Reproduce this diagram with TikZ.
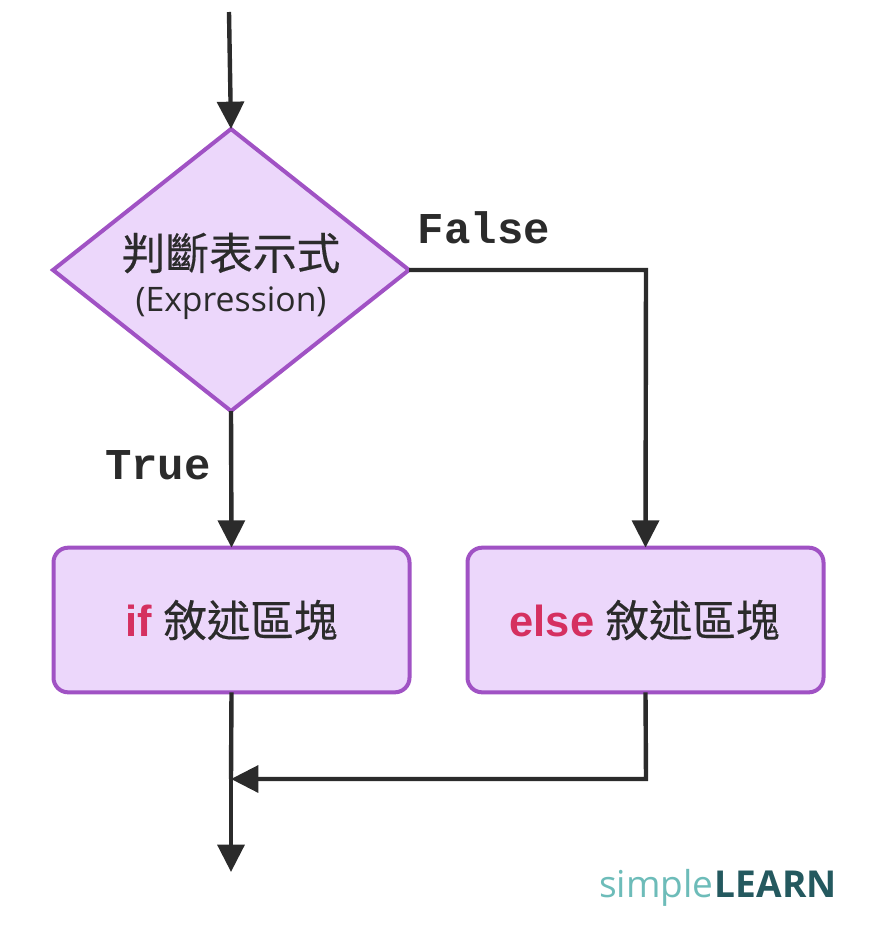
\documentclass[tikz,border=0pt]{standalone}
\usepackage{fontspec}
\setmainfont{Open Sans}
\newfontfamily\cjkfont{Noto Sans CJK TC}[FakeBold=0.35]
\newfontfamily\monofont{Liberation Mono}[BoldFont={Liberation Mono Bold}]
\newfontfamily\helvfont{Liberation Sans}[BoldFont={Liberation Sans Bold}]
\usetikzlibrary{shapes.geometric,arrows.meta}
\definecolor{boxfill}{HTML}{ECD7FB}
\definecolor{boxline}{HTML}{A052C4}
\definecolor{ink}{HTML}{2B2B2B}
\definecolor{kw}{HTML}{D53060}
\definecolor{logolight}{HTML}{6DBCB9}
\definecolor{logodark}{HTML}{24595F}
\tikzset{
  flow/.style={draw=ink,line width=3.3pt,-{Triangle[length=20.5pt,width=20pt]}},
  plain/.style={draw=ink,line width=3.3pt},
  decision/.style={diamond,draw=boxline,fill=boxfill,line width=3pt,inner sep=0pt,outer sep=0pt,aspect=1.262,minimum width=267pt,minimum height=211.5pt},
  block/.style={rectangle,rounded corners=11pt,draw=boxline,fill=boxfill,line width=3pt,inner sep=0pt,outer sep=0pt,minimum width=267pt,minimum height=108.5pt},
  edgelabel/.style={text=ink,font=\monofont\bfseries\fontsize{33}{36}\selectfont,inner sep=0pt},
  blocktext/.style={text=ink,font=\fontsize{32.6}{38}\selectfont}
}
\newcommand{\kwd}[1]{{\helvfont\bfseries\color{kw}#1}}
\begin{document}
\begin{tikzpicture}[x=0.75pt,y=-0.75pt]
\useasboundingbox (0,0) rectangle (886,932);
\node[decision] (cond) at (231,270) {};
\node[text=ink,inner sep=0pt,font=\cjkfont\fontsize{32.8}{38}\selectfont] (condtext) at (231,253) {判斷表示式};
\node[text=ink,inner sep=0pt,font=\fontsize{25.3}{30}\selectfont] (condsub) at (231,303) {(Expression)};
\node[block] (ifb) at (231.5,620) {};
\node[block] (elseb) at (645.5,620) {};
\node[blocktext,inner sep=0pt] (iftext) at (231.5,620) {\kwd{if} {\cjkfont 敘述區塊}};
\node[blocktext,inner sep=0pt] (elsetext) at (644.5,620) {\kwd{else} {\cjkfont 敘述區塊}};
\node[edgelabel] (lfalse) at (484,228) {False};
\node[edgelabel] (ltrue) at (158,465) {True};
\coordinate (start) at (229,12);
\coordinate (merge) at (231,779);
\coordinate (finish) at (231,872);
\coordinate (turnF) at (646,270);
\coordinate (turnE) at (646,779);
\draw[flow] (start) -- (cond.north);
\draw[flow] (cond.south) -- (ifb.north);
\draw[flow] (cond.east) -- (turnF) -- (elseb.north);
\draw[plain] (ifb.south) -- (merge);
\draw[flow] (merge) -- (finish);
\draw[flow] (elseb.south) -- (turnE) -- (merge);
\node[inner sep=0pt,anchor=base east] (logo) at (837,897) {\fontsize{27.8}{34}\selectfont\color{logolight}simple\hspace{1pt}{\bfseries\color{logodark}LEARN}};
\end{tikzpicture}
\end{document}
